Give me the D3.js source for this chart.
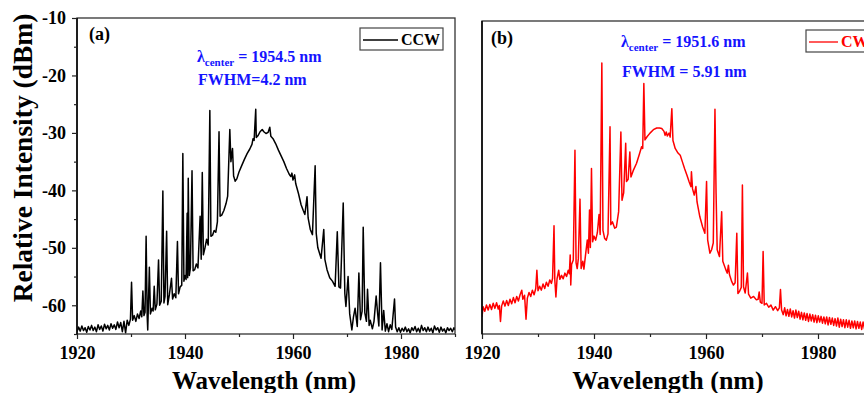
<!DOCTYPE html>
<html>
<head>
<meta charset="utf-8">
<script src="https://cdn.jsdelivr.net/npm/d3@7"></script>
<style>
  body { margin: 0; background: #fff; }
  text { font-family: "Liberation Serif", "Times New Roman", serif; font-weight: bold; }
</style>
</head>
<body>
<script>
// spectra: [wavelength (nm), intensity (dBm)]
const ccwSpectrum = [
  [1920.0,-64.6],[1920.3,-63.8],[1920.6,-64.5],[1920.9,-63.6],[1921.2,-64.4],[1921.5,-63.9],[1921.8,-64.7],[1922.1,-63.7],
  [1922.4,-64.3],[1922.7,-63.5],[1923.0,-64.4],[1923.3,-63.8],[1923.6,-64.6],[1923.9,-63.4],[1924.2,-64.2],[1924.5,-63.6],
  [1924.8,-64.5],[1925.1,-63.3],[1925.4,-64.1],[1925.7,-63.5],[1926.0,-64.3],[1926.3,-63.2],[1926.6,-64.0],[1926.9,-63.4],
  [1927.2,-64.2],[1927.5,-62.9],[1927.8,-63.9],[1928.1,-63.0],[1928.4,-64.6],[1928.7,-62.8],[1929.0,-64.8],[1929.3,-62.6],
  [1929.6,-63.5],[1929.9,-62.4],[1930.1,-56.0],[1930.3,-62.6],[1930.6,-61.8],[1930.9,-62.8],[1931.2,-61.5],[1931.5,-62.3],
  [1931.8,-61.0],[1932.0,-62.0],[1932.2,-57.5],[1932.4,-61.8],[1932.6,-61.2],[1932.8,-48.0],[1933.0,-62.0],[1933.1,-64.3],
  [1933.4,-53.4],[1933.6,-61.5],[1933.9,-60.5],[1934.1,-61.0],[1934.3,-56.7],[1934.5,-60.8],[1934.8,-59.8],[1935.1,-52.1],
  [1935.3,-60.0],[1935.6,-59.3],[1935.9,-40.1],[1936.1,-59.6],[1936.3,-58.5],[1936.6,-47.1],[1936.8,-59.9],[1937.1,-58.2],
  [1937.5,-55.3],[1937.7,-58.9],[1938.0,-58.0],[1938.3,-58.7],[1938.6,-48.9],[1938.8,-58.0],[1939.1,-56.8],[1939.4,-56.5],
  [1939.6,-33.6],[1939.8,-55.8],[1940.0,-54.8],[1940.2,-55.5],[1940.4,-44.0],[1940.5,-55.2],[1940.6,-37.9],[1940.8,-54.8],
  [1941.0,-53.5],[1941.3,-36.6],[1941.5,-54.0],[1941.8,-53.8],[1942.1,-52.8],[1942.4,-53.5],[1942.8,-44.5],[1943.0,-52.0],
  [1943.2,-36.9],[1943.4,-51.2],[1943.7,-50.0],[1944.0,-48.5],[1944.3,-49.5],[1944.6,-26.1],[1944.8,-48.0],[1945.1,-47.8],
  [1945.4,-47.0],[1945.7,-47.3],[1946.0,-45.5],[1946.3,-29.8],[1946.5,-44.5],[1946.8,-44.3],[1947.2,-43.5],[1947.6,-42.3],
  [1947.9,-41.0],[1948.3,-29.4],[1948.5,-35.0],[1948.8,-32.7],[1949.0,-37.5],[1949.3,-38.4],[1949.6,-38.0],[1950.0,-36.8],
  [1950.5,-35.7],[1951.0,-34.6],[1951.5,-33.6],[1952.0,-32.8],[1952.4,-32.0],[1952.6,-31.0],[1952.8,-31.3],[1953.1,-25.9],
  [1953.2,-30.8],[1953.5,-30.5],[1953.9,-29.8],[1954.3,-29.4],[1954.6,-29.8],[1955.0,-30.1],[1955.4,-29.9],[1955.7,-29.0],
  [1955.9,-30.6],[1956.3,-31.0],[1956.8,-31.9],[1957.3,-33.0],[1957.8,-34.0],[1958.3,-35.0],[1958.8,-36.2],[1959.3,-37.2],
  [1959.6,-37.6],[1959.8,-37.0],[1960.0,-38.2],[1960.3,-37.3],[1960.5,-38.8],[1961.0,-40.5],[1961.5,-42.5],[1961.9,-43.5],
  [1962.2,-44.2],[1962.6,-41.1],[1962.8,-44.8],[1963.2,-46.8],[1963.6,-47.7],[1964.1,-35.7],[1964.3,-47.5],[1964.6,-50.0],
  [1965.0,-51.2],[1965.2,-51.8],[1965.7,-46.8],[1965.9,-52.0],[1966.3,-53.8],[1966.8,-55.2],[1967.3,-55.8],[1967.8,-56.7],
  [1968.2,-47.2],[1968.5,-56.8],[1968.8,-57.0],[1969.3,-42.2],[1969.6,-58.0],[1969.8,-60.2],[1970.2,-55.0],[1970.5,-61.5],
  [1970.9,-64.3],[1971.2,-62.0],[1971.5,-60.5],[1971.9,-63.7],[1972.2,-54.4],[1972.5,-62.5],[1972.8,-61.0],[1973.0,-46.4],
  [1973.3,-61.3],[1973.6,-62.8],[1973.8,-57.2],[1974.1,-63.5],[1974.3,-62.6],[1974.7,-64.1],[1975.0,-62.8],[1975.4,-58.4],
  [1975.7,-61.7],[1975.9,-63.6],[1976.2,-52.6],[1976.5,-64.3],[1976.8,-60.9],[1977.1,-64.5],[1977.4,-63.2],[1977.7,-64.6],
  [1978.0,-63.4],[1978.3,-64.2],[1978.8,-58.9],[1979.0,-63.8],[1979.3,-64.6],[1979.6,-63.9],[1979.9,-64.7],[1980.2,-64.0],
  [1980.5,-64.5],[1980.8,-63.8],[1981.1,-64.6],[1981.4,-64.1],[1981.7,-64.8],[1982.0,-63.9],[1982.3,-64.4],[1982.6,-63.7],
  [1982.9,-64.6],[1983.2,-64.0],[1983.5,-64.7],[1983.8,-63.5],[1984.1,-64.4],[1984.4,-63.9],[1984.7,-64.6],[1985.0,-63.8],
  [1985.3,-64.5],[1985.6,-64.0],[1985.9,-64.8],[1986.2,-63.6],[1986.5,-64.3],[1986.8,-63.9],[1987.1,-64.7],[1987.4,-63.8],
  [1987.7,-64.5],[1988.0,-64.1],[1988.3,-64.8],[1988.6,-63.9],[1988.9,-64.4],[1989.2,-64.0],[1989.5,-64.6],[1989.8,-63.9],
  [1990.0,-64.3]
];

const cwSpectrum = [
  [1920.0,-62.0],[1920.2,-60.2],[1920.5,-61.0],[1920.8,-59.9],[1921.1,-60.8],[1921.4,-59.8],[1921.7,-60.7],[1922.0,-59.6],
  [1922.3,-60.5],[1922.6,-59.5],[1922.9,-60.6],[1923.1,-60.0],[1923.3,-62.8],[1923.5,-60.1],[1923.8,-59.2],[1924.1,-60.1],
  [1924.4,-59.1],[1924.7,-60.0],[1925.0,-58.9],[1925.3,-59.7],[1925.6,-58.6],[1925.9,-59.5],[1926.2,-58.4],[1926.5,-59.2],
  [1926.8,-58.1],[1927.1,-57.3],[1927.3,-58.9],[1927.6,-58.2],[1927.86,-62.4],[1928.1,-58.7],[1928.4,-57.7],[1928.7,-58.4],
  [1929.0,-57.3],[1929.3,-58.1],[1929.6,-57.0],[1929.8,-53.8],[1930.0,-57.4],[1930.3,-56.6],[1930.6,-57.3],[1930.9,-56.2],
  [1931.2,-57.0],[1931.5,-55.9],[1931.8,-56.6],[1932.1,-55.5],[1932.4,-56.1],[1932.6,-55.2],[1932.86,-46.0],[1933.0,-55.5],
  [1933.2,-58.5],[1933.4,-55.3],[1933.7,-53.8],[1933.9,-55.4],[1934.2,-54.7],[1934.5,-55.3],[1934.8,-54.3],[1935.1,-54.9],
  [1935.4,-53.8],[1935.6,-54.4],[1935.75,-51.1],[1935.85,-56.4],[1936.0,-52.8],[1936.3,-52.0],[1936.6,-32.7],[1936.8,-52.5],
  [1937.0,-53.5],[1937.2,-51.8],[1937.5,-41.3],[1937.7,-53.5],[1938.0,-52.2],[1938.2,-53.6],[1938.5,-51.0],[1938.8,-48.5],
  [1939.0,-50.8],[1939.2,-43.2],[1939.35,-49.8],[1939.55,-35.9],[1939.75,-48.8],[1940.0,-47.8],[1940.3,-48.5],[1940.6,-47.2],
  [1940.9,-44.0],[1941.1,-47.5],[1941.4,-17.4],[1941.6,-46.8],[1941.9,-48.2],[1942.2,-48.5],[1942.5,-47.4],[1942.86,-28.6],
  [1943.0,-45.8],[1943.3,-45.3],[1943.7,-46.4],[1944.0,-46.2],[1944.4,-43.5],[1944.8,-29.5],[1945.0,-41.5],[1945.3,-40.2],
  [1945.66,-31.5],[1945.8,-38.2],[1946.1,-37.8],[1946.4,-33.0],[1946.6,-37.4],[1947.0,-36.3],[1947.6,-35.0],[1948.1,-33.4],
  [1948.5,-32.1],[1948.7,-32.4],[1948.9,-21.0],[1949.1,-30.9],[1949.5,-30.3],[1950.0,-29.7],[1950.6,-29.1],[1951.2,-28.8],
  [1951.7,-28.8],[1952.1,-28.9],[1952.5,-29.4],[1952.7,-30.1],[1952.9,-29.5],[1953.1,-30.2],[1953.4,-29.7],[1953.6,-30.4],
  [1953.9,-25.4],[1954.1,-31.0],[1954.5,-32.4],[1955.0,-33.2],[1955.4,-33.6],[1955.8,-34.8],[1956.2,-36.0],[1956.6,-37.1],
  [1957.0,-38.3],[1957.3,-39.1],[1957.4,-36.5],[1957.6,-39.5],[1957.9,-40.6],[1958.2,-39.1],[1958.4,-41.8],[1958.9,-44.4],
  [1959.4,-46.2],[1959.8,-47.3],[1960.1,-38.2],[1960.3,-48.5],[1960.7,-50.8],[1961.0,-50.2],[1961.3,-49.0],[1961.6,-25.5],
  [1961.8,-40.3],[1962.0,-50.2],[1962.4,-51.4],[1962.8,-43.5],[1963.0,-52.2],[1963.5,-53.6],[1963.8,-54.3],[1964.0,-52.9],
  [1964.2,-54.6],[1964.6,-55.8],[1964.9,-56.4],[1965.2,-56.0],[1965.5,-47.3],[1965.7,-57.9],[1966.0,-57.5],[1966.3,-56.8],
  [1966.5,-38.8],[1966.7,-56.7],[1967.0,-57.8],[1967.4,-54.3],[1967.6,-58.0],[1968.0,-58.7],[1968.5,-58.4],[1969.0,-59.0],
  [1969.3,-58.9],[1969.5,-57.6],[1969.7,-59.4],[1970.0,-59.6],[1970.2,-50.5],[1970.4,-59.9],[1970.8,-59.6],[1971.2,-60.3],
  [1971.6,-59.9],[1972.0,-60.8],[1972.4,-60.2],[1972.8,-60.9],[1973.1,-60.4],[1973.3,-57.2],[1973.5,-60.8],[1973.8,-61.6],
  [1974.05,-60.4],[1974.3,-61.8],[1974.55,-60.7],[1974.8,-61.9],[1975.05,-60.6],[1975.3,-62.0],[1975.55,-60.9],[1975.8,-62.2],
  [1976.05,-60.8],[1976.3,-62.1],[1976.55,-61.0],[1976.8,-62.4],[1977.05,-61.2],[1977.3,-62.5],[1977.55,-61.3],[1977.8,-62.6],
  [1978.05,-61.4],[1978.3,-62.8],[1978.55,-61.5],[1978.8,-62.7],[1979.05,-61.6],[1979.3,-62.9],[1979.55,-61.7],[1979.8,-63.0],
  [1980.05,-61.8],[1980.3,-62.9],[1980.55,-61.9],[1980.8,-63.1],[1981.05,-62.0],[1981.3,-63.2],[1981.55,-62.0],[1981.8,-63.4],
  [1982.05,-62.1],[1982.3,-63.3],[1982.55,-62.2],[1982.8,-63.5],[1983.05,-62.3],[1983.3,-63.6],[1983.55,-62.2],[1983.8,-63.8],
  [1984.05,-62.4],[1984.3,-63.7],[1984.55,-62.5],[1984.8,-63.9],[1985.05,-62.5],[1985.3,-63.8],[1985.55,-62.6],[1985.8,-64.0],
  [1986.05,-62.7],[1986.3,-63.9],[1986.55,-62.7],[1986.8,-64.1],[1987.05,-62.8],[1987.3,-64.0],[1987.55,-62.9],[1987.8,-64.2],
  [1988.05,-62.9],[1988.3,-64.1],[1988.55,-63.0],[1988.8,-64.3],[1989.05,-63.0],[1989.3,-64.2],[1989.55,-63.1],[1989.8,-64.3],
  [1990.0,-63.2]
];

const xTicks = [1920, 1940, 1960, 1980];
const xMinorTicks = [1930, 1950, 1970, 1990];
const yTicks = [-10, -20, -30, -40, -50, -60];
const yMinorTicks = [-15, -25, -35, -45, -55, -65];
const legendNames = ["CCW", "CW"];
const panelNames = ["(a)", "(b)"];
const centerValues = ["1954.5 nm", "1951.6 nm"];
const fwhmTexts = ["FWHM=4.2 nm", "FWHM = 5.91 nm"];

const W = 864, H = 393;
const svg = d3.select("body").append("svg").attr("width", W).attr("height", H);

const panels = [
  { id: "a", data: ccwSpectrum, color: "#000", left: 77, right: 455, top: 18, bottom: 334,
    yLabels: true, titleSize: 25, titleX: 264, lamX: 197, lamY: 62, fwhmY: 85,
    legX: 360, legY: 28, legW: 83, lineW: 35, nameX: 89, nameY: 40 },
  { id: "b", data: cwSpectrum, color: "#ff0000", left: 482, right: 874, top: 21, bottom: 334,
    yLabels: false, titleSize: 26, titleX: 668, lamX: 621, lamY: 47, fwhmY: 77,
    legX: 806, legY: 30, legW: 83, lineW: 29, nameX: 491, nameY: 44 }
];

panels.forEach((p, i) => {
  const x = d3.scaleLinear().domain([1920, 1990]).range([p.left, p.right]);
  const y = d3.scaleLinear().domain([-65, -10]).range([p.bottom, p.top]);
  const g = svg.append("g");

  g.append("clipPath").attr("id", "clip-" + p.id)
    .append("rect")
    .attr("x", p.left).attr("y", p.top)
    .attr("width", p.right - p.left).attr("height", p.bottom - p.top);

  // spectrum
  g.append("path")
    .datum(p.data)
    .attr("clip-path", "url(#clip-" + p.id + ")")
    .attr("fill", "none")
    .attr("stroke", p.color)
    .attr("stroke-width", 1.5)
    .attr("stroke-linejoin", "round")
    .attr("d", d3.line().x(d => x(d[0])).y(d => y(d[1])));

  // frame
  g.append("rect")
    .attr("x", p.left).attr("y", p.top)
    .attr("width", p.right - p.left).attr("height", p.bottom - p.top)
    .attr("fill", "none").attr("stroke", "#333").attr("stroke-width", 1.3);
  g.append("line").attr("x1", p.left).attr("x2", p.left).attr("y1", p.top).attr("y2", p.bottom)
    .attr("stroke", "#000").attr("stroke-width", 1.5);

  // x axis
  const xAxis = g.append("g").attr("transform", "translate(0," + p.bottom + ")")
    .call(d3.axisBottom(x).tickValues(xTicks).tickSize(5).tickPadding(7).tickFormat(d3.format("d")));
  g.append("g").attr("transform", "translate(0," + p.bottom + ")")
    .call(d3.axisBottom(x).tickValues(xMinorTicks).tickSize(3).tickFormat(""));
  xAxis.selectAll("text").style("font-size", "18px").attr("fill", "#000");

  // y axis (only panel a has labels)
  if (p.yLabels) {
    const yAxis = g.append("g").attr("transform", "translate(" + p.left + ",0)")
      .call(d3.axisLeft(y).tickValues(yTicks).tickSize(5).tickPadding(6));
    g.append("g").attr("transform", "translate(" + p.left + ",0)")
      .call(d3.axisLeft(y).tickValues(yMinorTicks).tickSize(3).tickFormat(""));
    yAxis.selectAll("text").style("font-size", "18px").attr("fill", "#000")
      .text(d => d3.format("d")(d).replace("−", "-"));

    g.append("text")
      .attr("transform", "translate(32,158) rotate(-90)")
      .attr("text-anchor", "middle")
      .style("font-size", "27.5px")
      .text("Relative Intensity (dBm)");
  }
  g.selectAll(".domain").remove();
  g.selectAll(".tick line").attr("stroke", "#222").attr("stroke-width", 1.2);

  g.append("text")
    .attr("x", p.titleX).attr("y", 389)
    .attr("text-anchor", "middle")
    .style("font-size", p.titleSize + "px")
    .text("Wavelength (nm)");

  g.append("text").attr("x", p.nameX).attr("y", p.nameY)
    .style("font-size", "18px").text(panelNames[i]);

  // centre wavelength and FWHM
  const lam = g.append("text").attr("x", p.lamX).attr("y", p.lamY)
    .attr("fill", "#1414ff").style("font-size", "16px");
  lam.append("tspan").text("λ");
  lam.append("tspan").attr("dy", 4).style("font-size", "11px").text("center");
  lam.append("tspan").attr("dy", -4).text(" = " + centerValues[i]);
  g.append("text").attr("x", p.lamX + 1).attr("y", p.fwhmY)
    .attr("fill", "#1414ff").style("font-size", "16px").text(fwhmTexts[i]);

  // legend
  g.append("rect").attr("x", p.legX).attr("y", p.legY).attr("width", p.legW).attr("height", 22)
    .attr("fill", "#fff").attr("stroke", "#444").attr("stroke-width", 1.2);
  g.append("line").attr("x1", p.legX + 3).attr("x2", p.legX + 3 + p.lineW)
    .attr("y1", p.legY + 12).attr("y2", p.legY + 12)
    .attr("stroke", p.color).attr("stroke-width", 1.3);
  g.append("text").attr("x", p.legX + 6 + p.lineW).attr("y", p.legY + 17)
    .attr("fill", p.color).style("font-size", "16px").text(legendNames[i]);
});
</script>
</body>
</html>
